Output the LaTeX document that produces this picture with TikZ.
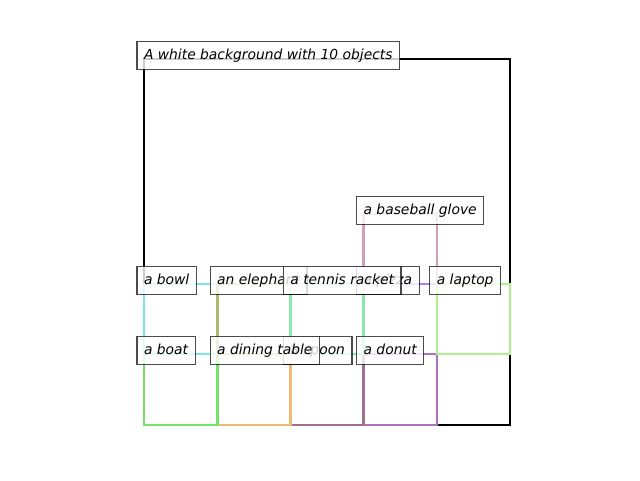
\documentclass[tikz,border=0pt]{standalone}
\usepackage{fontspec}
\setmainfont{DejaVu Sans}
\begin{document}
\begin{tikzpicture}[x=1pt,y=-1pt,
  obj/.style={line width=2.6pt},
  lab/.style={anchor=base west, draw=black, draw opacity=0.7, fill=white, fill opacity=0.8, text opacity=1,
    line width=1.1pt, inner xsep=7pt, inner ysep=7pt, outer sep=0pt, text height=10.6pt, text depth=3.3pt,
    font=\fontsize{13.85pt}{16pt}\selectfont\itshape}]
\definecolor{cbowl}{HTML}{7CE6E6}
\definecolor{cboat}{HTML}{74E468}
\definecolor{celeph}{HTML}{B0B870}
\definecolor{ctable}{HTML}{F0B870}
\definecolor{ctennis}{HTML}{88E8B0}
\definecolor{cspoon}{HTML}{A07090}
\definecolor{cpizza}{HTML}{B080F0}
\definecolor{cdonut}{HTML}{B070C0}
\definecolor{claptop}{HTML}{B0F090}
\definecolor{cglove}{HTML}{D0A0B8}
\useasboundingbox (0,0) rectangle (640,480);
% boxes
\draw[line width=2.6pt, black] (144,59) rectangle (510,425);
\draw[obj, cglove]  (363.6,214) rectangle (436.8,284);
\draw[obj, cpizza]  (363.6,284) rectangle (436.8,354);
\draw[obj, cdonut]  (363.6,354) rectangle (436.8,425);
\draw[obj, cspoon]  (290.4,354) rectangle (363.6,425);
\draw[obj, ctable]  (217.2,354) rectangle (290.4,425);
\draw[obj, cboat]   (144,354) rectangle (217.2,425);
\draw[obj, cbowl]   (144,284) rectangle (217.2,354);
\draw[obj, celeph]  (217.2,284) rectangle (290.4,354);
\draw[obj, ctennis] (290.4,284) rectangle (363.6,354);
\draw[obj, claptop] (436.8,284) rectangle (510,354);
% labels
\node[lab] (title) at (137,59) {A white background with 10 objects};
\node[lab] (glove) at (356.6,214) {a baseball glove};
\node[lab] (bowl) at (137,284) {a bowl};
\node[lab] (eleph) at (210.2,284) {an elephant};
\node[lab] (pizza) at (356.6,284) {a pizza};
\node[lab] (tennis) at (283.4,284) {a tennis racket};
\node[lab] (laptop) at (429.8,284) {a laptop};
\node[lab] (boat) at (137,354) {a boat};
\node[lab] (spoon) at (283.4,354) {a spoon};
\node[lab] (table) at (210.2,354) {a dining table};
\node[lab] (donut) at (356.6,354) {a donut};
\end{tikzpicture}
\end{document}
